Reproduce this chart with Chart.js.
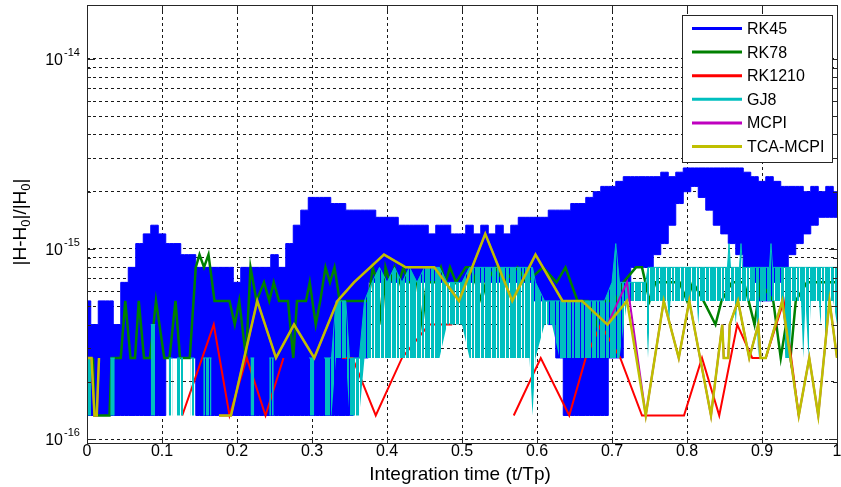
<!DOCTYPE html>
<html>
<head>
<meta charset="utf-8">
<script src="https://cdn.jsdelivr.net/npm/chart.js@4.4.0/dist/chart.umd.min.js"></script>
<style>
  html, body { margin: 0; padding: 0; background: #fff; }
  canvas { display: block; }
</style>
</head>
<body>
<canvas id="chart" width="841" height="487"></canvas>
<script>
// every value below is |H-H0|/|H0| in units of 1e-16, time is t/Tp
const UNIT = 1e-16;
const FONT = '"Liberation Sans", Arial, sans-serif';

const seriesNames = ['RK45', 'RK78', 'RK1210', 'GJ8', 'MCPI', 'TCA-MCPI'];
const seriesColors = ['#0000ff', '#008000', '#ff0000', '#00bfbf', '#bf00bf', '#bfbf00'];

const xTicks = [0, 0.1, 0.2, 0.3, 0.4, 0.5, 0.6, 0.7, 0.8, 0.9, 1];
const yDecades = [-16, -15, -14];
const yMinor = [1, 2, 3, 4, 5, 6, 7, 8, 9];
const yMin = 0.953e-16;
const yMax = 1.92e-14;

// RK45 is a dense noisy band, read as upper and lower envelope every 0.01
const rk45T = [0.00, 0.01, 0.02, 0.03, 0.04, 0.05, 0.06, 0.07, 0.08, 0.09,
  0.10, 0.11, 0.12, 0.13, 0.14, 0.15, 0.16, 0.17, 0.18, 0.19,
  0.20, 0.21, 0.22, 0.23, 0.24, 0.25, 0.26, 0.27, 0.28, 0.29,
  0.30, 0.31, 0.32, 0.33, 0.34, 0.35, 0.36, 0.37, 0.38, 0.39,
  0.40, 0.41, 0.42, 0.43, 0.44, 0.45, 0.46, 0.47, 0.48, 0.49,
  0.50, 0.51, 0.52, 0.53, 0.54, 0.55, 0.56, 0.57, 0.58, 0.59,
  0.60, 0.61, 0.62, 0.63, 0.64, 0.65, 0.66, 0.67, 0.68, 0.69,
  0.70, 0.71, 0.72, 0.73, 0.74, 0.75, 0.76, 0.77, 0.78, 0.79,
  0.80, 0.81, 0.82, 0.83, 0.84, 0.85, 0.86, 0.87, 0.88, 0.89,
  0.90, 0.91, 0.92, 0.93, 0.94, 0.95, 0.96, 0.97, 0.98, 0.99, 1.00];
const rk45Hi = [5.33, 4.0, 5.33, 5.33, 4.0, 6.67, 8.0, 10.67, 12.0, 13.33,
  12.0, 10.67, 10.67, 9.33, 9.33, 8.0, 8.0, 8.0, 8.0, 8.0,
  6.67, 8.0, 8.0, 8.0, 8.0, 9.33, 8.0, 10.67, 13.33, 16.0,
  18.67, 18.67, 18.67, 17.33, 17.33, 16.0, 16.0, 16.0, 16.0, 14.67,
  14.67, 14.67, 13.33, 13.33, 13.33, 13.33, 12.0, 13.33, 13.33, 12.0,
  12.0, 13.33, 12.0, 13.33, 12.0, 13.33, 12.0, 13.33, 14.67, 14.67,
  14.67, 14.67, 16.0, 16.0, 16.0, 17.33, 17.33, 18.67, 20.0, 21.33,
  21.33, 22.67, 24.0, 24.0, 24.0, 24.0, 24.0, 25.33, 24.0, 25.33,
  26.67, 26.67, 26.67, 26.67, 26.67, 26.67, 26.67, 26.67, 25.33, 24.0,
  22.67, 24.0, 22.67, 21.33, 21.33, 21.33, 20.0, 21.33, 20.0, 21.33, 20.0];
const rk45Lo = [1.33, 1.33, 1.33, 1.33, 1.33, 1.33, 1.33, 1.33, 1.33, 1.33,
  1.33, 2.67, 2.67, 2.67, 2.67, 1.33, 1.33, 1.33, 1.33, 1.33,
  1.33, 1.33, 1.33, 1.33, 1.33, 1.33, 1.33, 1.33, 1.33, 1.33,
  1.33, 1.33, 1.33, 1.33, 1.33, 1.33, 2.67, 2.67, 6.67, 6.67,
  6.67, 6.67, 6.67, 6.67, 6.67, 6.67, 6.67, 6.67, 6.67, 6.67,
  6.67, 6.67, 6.67, 6.67, 6.67, 6.67, 6.67, 6.67, 6.67, 6.67,
  5.33, 5.33, 4.0, 2.67, 1.33, 1.33, 1.33, 1.33, 1.33, 1.33,
  2.67, 2.67, 5.33, 8.0, 8.0, 8.0, 9.33, 10.67, 13.33, 17.33,
  20.0, 21.33, 18.67, 16.0, 13.33, 12.0, 10.67, 9.33, 8.0, 6.67,
  5.33, 5.33, 6.67, 8.0, 9.33, 10.67, 12.0, 13.33, 14.67, 14.67, 14.67];

// [t, value]; null = zero error, not drawn on the log axis
const rk78 = [[0.008, 2.67], [0.010, 1.33], [0.030, 1.33], [0.033, 2.67], [0.045, 2.67],
  [0.051, 5.33], [0.058, 2.67], [0.064, 2.67], [0.069, 5.33], [0.076, 2.67], [0.084, 2.67],
  [0.092, 5.33], [0.103, 2.67], [0.110, 2.67], [0.118, 5.33], [0.124, 2.67], [0.137, 2.67],
  [0.145, 8.0], [0.150, 9.33], [0.156, 8.0], [0.162, 9.33], [0.170, 5.33], [0.190, 5.33],
  [0.197, 4.0], [0.203, 5.33], [0.212, 2.67], [0.218, 8.0], [0.226, 5.33], [0.236, 6.67],
  [0.243, 5.33], [0.249, 6.67], [0.256, 5.33], [0.268, 5.33], [0.275, 2.67], [0.280, 5.33],
  [0.292, 5.33], [0.297, 6.67], [0.305, 4.0], [0.311, 5.33], [0.318, 8.0], [0.324, 6.67],
  [0.330, 8.0], [0.337, 5.33], [0.375, 5.33], [0.381, 8.0], [0.387, 6.67], [0.393, 4.0],
  [0.398, 8.0], [0.404, 6.67], [0.410, 8.0], [0.416, 6.67], [0.422, 8.0], [0.428, 6.67],
  [0.440, 6.67], [0.447, 4.0], [0.453, 6.67], [0.465, 6.67], [0.472, 8.0], [0.478, 6.67],
  [0.484, 8.0], [0.492, 6.67], [0.505, 8.0], [0.512, 8.0], [0.518, 6.67], [0.526, 5.33],
  [0.532, 6.67], [0.545, 8.0], [0.556, 6.67], [0.574, 8.0], [0.586, 6.67], [0.608, 8.0],
  [0.626, 6.67], [0.638, 8.0], [0.654, 5.33], [0.668, 5.33], [0.680, 4.0], [0.690, 5.33],
  [0.705, 5.33], [0.715, 6.67], [0.732, 8.0], [0.740, 8.0], [0.750, 5.33], [0.758, 6.67],
  [0.770, 6.67], [0.790, 6.67], [0.800, 5.33], [0.808, 6.67], [0.822, 5.33], [0.838, 4.0],
  [0.846, 5.33], [0.860, 6.67], [0.876, 6.67], [0.890, 4.0], [0.898, 6.67], [0.915, 5.33],
  [0.925, 2.67], [0.932, 4.0], [0.938, 2.67], [0.945, 5.33], [0.960, 6.67], [0.980, 6.67],
  [1.000, 6.67]];

const rk1210 = [[0.127, 1.33], [0.169, 4.0], [0.190, 1.33], [0.213, 2.67], [0.238, 1.33],
  [0.262, 2.67], [0.263, null], [0.340, 2.67], [0.354, 2.67], [0.385, 1.33], [0.420, 2.67],
  [0.456, 4.0], [0.487, 4.0], [0.488, null], [0.569, 1.33], [0.605, 2.67], [0.643, 1.33],
  [0.665, 2.67], [0.685, 4.0], [0.711, 2.67], [0.740, 1.33], [0.796, 1.33], [0.820, 2.67],
  [0.843, 1.33], [0.867, 4.0], [0.887, 2.67], [0.905, 2.67], [0.929, 5.33], [0.949, 1.33]];

// GJ8 is dense too: [t, top of the bars, bottom of the bars]
const gj8 = [[0.000, 2.67, 1.33], [0.006, 2.67, 1.33], [0.007, null, null],
  [0.031, 2.67, 1.33], [0.037, 2.67, 1.33], [0.038, null, null],
  [0.085, 4.0, 1.33], [0.091, 4.0, 1.33], [0.092, null, null],
  [0.109, 2.67, 1.33], [0.114, 2.67, 1.33], [0.115, null, null],
  [0.120, 2.67, 1.33], [0.128, 2.67, 1.33], [0.129, null, null],
  [0.138, 2.67, 1.33], [0.143, 2.67, 1.33], [0.144, null, null],
  [0.155, 2.67, 1.33], [0.166, 2.67, 1.33], [0.167, null, null],
  [0.218, 2.67, 1.33], [0.223, 2.67, 1.33], [0.224, null, null],
  [0.243, 2.67, 1.33], [0.249, 2.67, 1.33], [0.250, null, null],
  [0.296, 2.67, 1.33], [0.303, 2.67, 1.33], [0.304, null, null],
  [0.316, 2.67, 1.33], [0.326, 2.67, 1.33], [0.332, 5.33, 2.67], [0.345, 5.33, 2.67],
  [0.350, 2.67, 1.33], [0.363, 2.67, 1.33], [0.370, 5.33, 2.67], [0.380, 6.67, 2.67],
  [0.390, 8.0, 2.67], [0.400, 6.67, 2.67], [0.410, 8.0, 2.67], [0.420, 6.67, 2.67],
  [0.430, 8.0, 2.67], [0.440, 6.67, 2.67], [0.450, 8.0, 2.67], [0.460, 8.0, 2.67],
  [0.470, 8.0, 2.67], [0.480, 6.67, 4.0], [0.490, 6.67, 4.0], [0.500, 6.67, 4.0],
  [0.510, 8.0, 2.67], [0.520, 8.0, 2.67], [0.530, 8.0, 2.67], [0.540, 8.0, 2.67],
  [0.550, 8.0, 2.67], [0.560, 8.0, 2.67], [0.570, 8.0, 2.67], [0.580, 8.0, 2.67],
  [0.590, 8.0, 2.67], [0.594, 8.0, 1.33], [0.598, 6.67, 2.67], [0.610, 5.33, 4.0],
  [0.620, 5.33, 4.0], [0.630, 5.33, 2.67], [0.650, 5.33, 2.67], [0.670, 5.33, 2.67],
  [0.690, 5.33, 2.67], [0.700, 6.67, 2.67], [0.705, 10.67, 2.67], [0.710, 6.67, 2.67],
  [0.720, 6.67, 5.33], [0.745, 6.67, 5.33], [0.748, 8.0, 2.67], [0.751, 8.0, 5.33],
  [0.774, 8.0, 5.33], [0.776, 8.0, 4.0], [0.778, 8.0, 5.33], [0.813, 8.0, 5.33],
  [0.815, 8.0, 4.0], [0.817, 8.0, 5.33], [0.854, 8.0, 5.33], [0.856, 10.67, 5.33],
  [0.858, 8.0, 5.33], [0.863, 8.0, 5.33], [0.865, 8.0, 4.0], [0.867, 8.0, 5.33],
  [0.870, 8.0, 5.33], [0.872, 10.67, 5.33], [0.874, 8.0, 5.33], [0.892, 8.0, 5.33],
  [0.895, 8.0, 2.67], [0.898, 8.0, 5.33], [0.910, 8.0, 5.33], [0.912, 10.67, 5.33],
  [0.914, 8.0, 5.33], [0.928, 8.0, 5.33], [0.931, 8.0, 2.67], [0.937, 8.0, 2.67],
  [0.940, 8.0, 5.33], [0.952, 8.0, 5.33], [0.955, 8.0, 2.67], [0.958, 8.0, 5.33],
  [0.962, 8.0, 2.67], [0.965, 8.0, 5.33], [0.976, 8.0, 5.33], [0.978, 8.0, 4.0],
  [0.980, 8.0, 5.33], [0.983, 8.0, 5.33], [0.985, 8.0, 2.67], [0.987, 8.0, 5.33],
  [0.995, 8.0, 5.33], [1.000, 8.0, 4.0]];

// MCPI lies under TCA-MCPI except around t = 0.72
const mcpi = [[0.000, 2.67], [0.006, 2.67], [0.010, 1.33], [0.013, 1.33], [0.016, 2.67],
  [0.017, null], [0.176, 1.33], [0.192, 1.33], [0.227, 5.33], [0.252, 2.67], [0.276, 4.0],
  [0.303, 2.67], [0.334, 5.33], [0.356, 6.67], [0.396, 9.33], [0.425, 8.0], [0.463, 8.0],
  [0.496, 5.33], [0.531, 12.0], [0.567, 5.33], [0.598, 9.33], [0.634, 5.33], [0.660, 5.33],
  [0.694, 4.0], [0.720, 6.67], [0.745, 1.33], [0.769, 5.33], [0.789, 2.67], [0.803, 5.33],
  [0.832, 1.33], [0.847, 4.0], [0.849, 2.67], [0.855, 2.67], [0.857, 4.0], [0.868, 5.33],
  [0.883, 2.67], [0.895, 4.0], [0.898, 2.67], [0.905, 2.67], [0.927, 5.33], [0.949, 1.33],
  [0.963, 2.67], [0.975, 1.33], [0.990, 5.33], [1.000, 2.67]];

const tcaMcpi = [[0.000, 2.67], [0.006, 2.67], [0.010, 1.33], [0.013, 1.33], [0.016, 2.67],
  [0.017, null], [0.176, 1.33], [0.192, 1.33], [0.227, 5.33], [0.252, 2.67], [0.276, 4.0],
  [0.303, 2.67], [0.334, 5.33], [0.356, 6.67], [0.396, 9.33], [0.425, 8.0], [0.463, 8.0],
  [0.496, 5.33], [0.531, 12.0], [0.567, 5.33], [0.598, 9.33], [0.634, 5.33], [0.660, 5.33],
  [0.694, 4.0], [0.720, 5.33], [0.745, 1.33], [0.769, 5.33], [0.789, 2.67], [0.803, 5.33],
  [0.832, 1.33], [0.847, 4.0], [0.849, 2.67], [0.855, 2.67], [0.857, 4.0], [0.868, 5.33],
  [0.883, 2.67], [0.895, 4.0], [0.898, 2.67], [0.905, 2.67], [0.927, 5.33], [0.949, 1.33],
  [0.963, 2.67], [0.975, 1.33], [0.990, 5.33], [1.000, 2.67]];

const scaled = v => (v == null ? null : v * UNIT);
const pairs = rows => rows.map(r => ({ x: r[0], y: scaled(r[1]) }));
const column = (ts, vs) => ts.map((t, i) => ({ x: t, y: scaled(vs[i]) }));

const yGrid = yDecades.flatMap(d => yMinor.map(m => m * Math.pow(10, d)))
  .filter(v => v >= yMin && v <= yMax);

// vertical stripe fill, to look like the densely packed bars of the plot
function stripes(color, runs) {
  const c = document.createElement('canvas');
  c.width = runs.reduce((s, r) => s + r, 0);
  c.height = 1;
  const g = c.getContext('2d');
  let pos = 0;
  runs.forEach((w, i) => {
    if (i % 2 === 0) { g.fillStyle = color; g.fillRect(pos, 0, w, 1); }
    pos += w;
  });
  return g.createPattern(c, 'repeat');
}

function line(idx, data, width, order, extra) {
  return Object.assign({
    label: seriesNames[idx],
    data: data,
    borderColor: seriesColors[idx],
    backgroundColor: seriesColors[idx],
    borderWidth: width,
    pointRadius: 0,
    fill: false,
    spanGaps: false,
    order: order
  }, extra || {});
}

const cyanBars = stripes(seriesColors[3], [5, 1, 3, 1, 6, 1, 4, 1, 2, 1]);

const datasets = [
  line(0, column(rk45T, rk45Hi), 1, 6, { fill: '+1', stepped: 'middle' }),
  line(0, column(rk45T, rk45Lo), 1, 6, { label: 'RK45 low', stepped: 'middle' }),
  line(1, pairs(rk78), 2.5, 5),
  line(2, pairs(rk1210), 2, 4),
  line(3, gj8.map(r => ({ x: r[0], y: scaled(r[1]) })), 1, 3, { fill: '+1', backgroundColor: cyanBars }),
  line(3, gj8.map(r => ({ x: r[0], y: scaled(r[2]) })), 1, 3, { label: 'GJ8 low', borderWidth: 0 }),
  line(4, pairs(mcpi), 2, 2),
  line(5, pairs(tcaMcpi), 2.5, 1)
];

const gridStyle = { color: '#1a1a1a', lineWidth: 1, drawTicks: false };

const matlabLook = {
  id: 'matlabLook',
  afterDatasetsDraw(chart) {
    const { ctx, chartArea: a, scales: { x, y } } = chart;
    ctx.save();
    ctx.strokeStyle = '#262626';
    ctx.lineWidth = 1;
    ctx.beginPath();
    xTicks.forEach(t => {
      const px = Math.round(x.getPixelForValue(t)) + 0.5;
      ctx.moveTo(px, a.bottom); ctx.lineTo(px, a.bottom - 6);
      ctx.moveTo(px, a.top); ctx.lineTo(px, a.top + 6);
    });
    yGrid.forEach(v => {
      const py = Math.round(y.getPixelForValue(v)) + 0.5;
      const len = Math.abs(Math.log10(v) - Math.round(Math.log10(v))) < 1e-6 ? 8 : 4;
      ctx.moveTo(a.left, py); ctx.lineTo(a.left + len, py);
      ctx.moveTo(a.right, py); ctx.lineTo(a.right - len, py);
    });
    ctx.stroke();
    ctx.strokeRect(Math.round(a.left) + 0.5, Math.round(a.top) + 0.5,
      Math.round(a.right - a.left), Math.round(a.bottom - a.top));
    ctx.restore();
  },
  afterDraw(chart) {
    const { ctx, chartArea: a, scales: { x, y } } = chart;
    ctx.save();
    ctx.fillStyle = '#000';

    // x tick labels
    ctx.font = '16px ' + FONT;
    ctx.textAlign = 'center';
    ctx.textBaseline = 'middle';
    xTicks.forEach(t => ctx.fillText(String(t), x.getPixelForValue(t), a.bottom + 9));

    // y tick labels, 10 with a raised exponent
    yDecades.forEach(d => {
      const py = y.getPixelForValue(Math.pow(10, d)) + 2;
      ctx.font = '16px ' + FONT;
      ctx.textAlign = 'right';
      ctx.textBaseline = 'middle';
      ctx.fillText('10', a.left - 24, py);
      ctx.font = '11px ' + FONT;
      ctx.textAlign = 'left';
      ctx.textBaseline = 'alphabetic';
      ctx.fillText(String(d), a.left - 23, py - 5);
    });

    // x title
    ctx.font = '19px ' + FONT;
    ctx.textAlign = 'center';
    ctx.textBaseline = 'middle';
    ctx.fillText('Integration time (t/Tp)', (a.left + a.right) / 2 - 2, 475);

    // y title |H-H0|/|H0| with subscripts
    const parts = [['|H-H', 0], ['0', 1], ['|/|H', 0], ['0', 1], ['|', 0]];
    const big = '19px ' + FONT, small = '13px ' + FONT;
    let total = 0;
    parts.forEach(p => { ctx.font = p[1] ? small : big; total += ctx.measureText(p[0]).width; });
    ctx.translate(21, (a.top + a.bottom) / 2 - 2);
    ctx.rotate(-Math.PI / 2);
    ctx.textAlign = 'left';
    ctx.textBaseline = 'middle';
    let cx = -total / 2;
    parts.forEach(p => {
      ctx.font = p[1] ? small : big;
      ctx.fillText(p[0], cx, p[1] ? 5 : 0);
      cx += ctx.measureText(p[0]).width;
    });
    ctx.setTransform(1, 0, 0, 1, 0, 0);

    // legend box
    const lx = 682, ly = 15, lw = 150, lh = 147;
    ctx.fillStyle = '#fff';
    ctx.fillRect(lx, ly, lw, lh);
    ctx.strokeStyle = '#262626';
    ctx.lineWidth = 1;
    ctx.strokeRect(lx + 0.5, ly + 0.5, lw, lh);
    ctx.font = '16px ' + FONT;
    ctx.textAlign = 'left';
    ctx.textBaseline = 'middle';
    seriesNames.forEach((name, i) => {
      const ry = 28.5 + i * 23.6;
      ctx.strokeStyle = seriesColors[i];
      ctx.lineWidth = 3;
      ctx.beginPath();
      ctx.moveTo(692, ry); ctx.lineTo(742, ry);
      ctx.stroke();
      ctx.fillStyle = '#000';
      ctx.fillText(name, 747, ry + 1);
    });
    ctx.restore();
  }
};

new Chart(document.getElementById('chart'), {
  type: 'line',
  data: { datasets: datasets },
  options: {
    responsive: false,
    animation: false,
    devicePixelRatio: 1,
    layout: { padding: { left: 87, right: 4, top: 5, bottom: 44 } },
    elements: { line: { tension: 0 }, point: { radius: 0 } },
    plugins: { legend: { display: false }, tooltip: { enabled: false } },
    scales: {
      x: {
        type: 'linear', min: 0, max: 1,
        afterBuildTicks: s => { s.ticks = xTicks.map(v => ({ value: v })); },
        ticks: { display: false },
        grid: gridStyle,
        border: { display: false, dash: [3, 3] }
      },
      y: {
        type: 'logarithmic', min: yMin, max: yMax,
        afterBuildTicks: s => { s.ticks = yGrid.map(v => ({ value: v })); },
        ticks: { display: false },
        grid: gridStyle,
        border: { display: false, dash: [3, 3] }
      }
    }
  },
  plugins: [matlabLook]
});
</script>
</body>
</html>
